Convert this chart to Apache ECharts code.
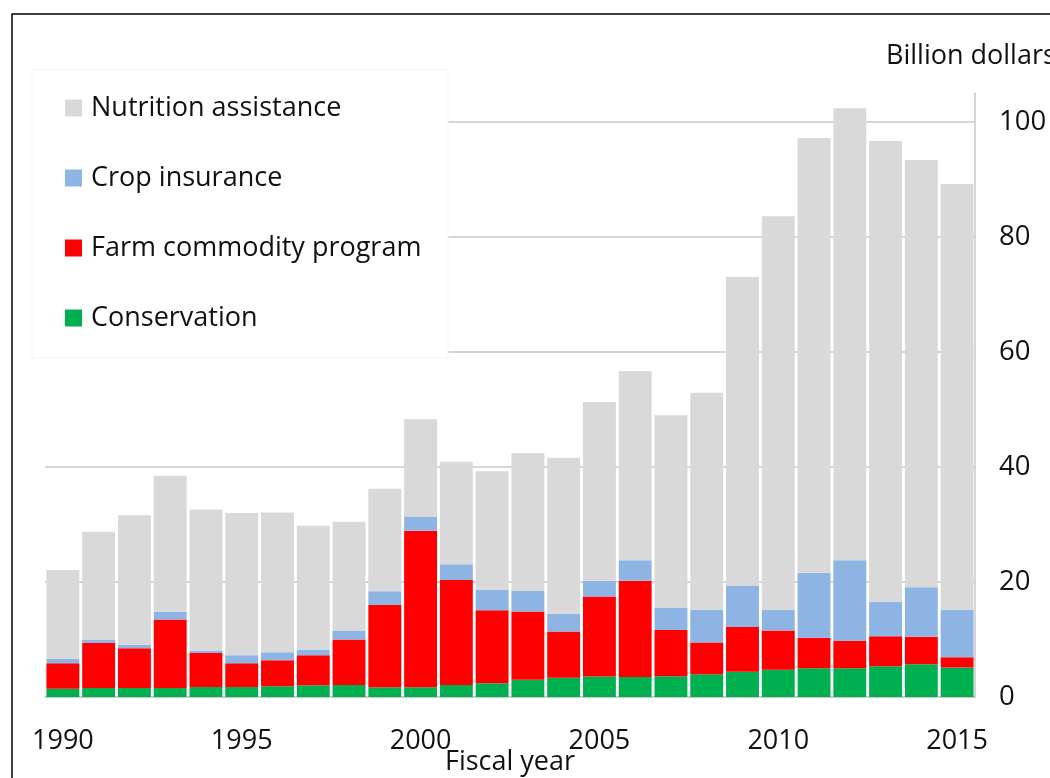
<!DOCTYPE html>
<html>
<head>
<meta charset="utf-8">
<script src="https://cdn.jsdelivr.net/npm/echarts@6/dist/echarts.min.js"></script>
<style>
html,body{margin:0;padding:0;background:#fff;}
#chart{width:1050px;height:778px;}
</style>
</head>
<body>
<div id="chart"></div>
<script>
const years = ['1990','1991','1992','1993','1994','1995','1996','1997','1998','1999','2000','2001','2002','2003','2004','2005','2006','2007','2008','2009','2010','2011','2012','2013','2014','2015'];
const conservation = [1.45,1.57,1.57,1.57,1.74,1.74,1.86,2.03,2.1,1.68,1.68,2.08,2.37,3.0,3.35,3.58,3.47,3.6,3.97,4.38,4.73,5.0,5.0,5.36,5.7,5.15];
const farmCommodity = [4.41,7.82,6.89,11.93,5.91,4.12,4.52,5.22,7.9,14.32,27.22,18.27,12.73,11.86,8.05,13.88,16.73,8.04,5.49,7.8,6.82,5.3,4.74,5.22,4.8,1.75];
const cropInsurance = [0.81,0.61,0.64,1.34,0.45,1.39,1.39,0.98,1.58,2.4,2.4,2.75,3.6,3.64,3.05,2.74,3.6,3.86,5.71,7.22,3.62,11.3,14.06,5.98,8.6,8.27];
const nutrition = [15.43,18.75,22.5,23.66,24.5,24.75,24.33,21.57,18.92,17.8,17.0,17.8,20.55,23.9,27.15,31.1,32.9,33.5,37.73,53.7,68.43,75.6,78.6,80.14,74.3,74.03];
const yTicks = [0,20,40,60,80,100];

const FONT = '"Open Sans", "DejaVu Sans", sans-serif';
const chart = echarts.init(document.getElementById('chart'));
const mk = (name, data, color) => ({
  name, type: 'bar', stack: 'total', data,
  barCategoryGap: '8%',
  itemStyle: { color },
  emphasis: { disabled: true }
});
chart.setOption({
  animation: false,
  backgroundColor: '#fff',
  textStyle: { fontFamily: FONT },
  grid: { left: 45, right: 75, top: 93.25, bottom: 81, containLabel: false, outerBoundsMode: 'none' },
  graphic: [
    { type: 'rect', z: 1, shape: { x: 32, y: 70, width: 416, height: 288 }, style: { fill: '#fff', stroke: '#f4f4f4', lineWidth: 1 } },
    { type: 'rect', z: 10, shape: { x: 12, y: 14, width: 1100, height: 820 }, style: { fill: 'none', stroke: '#000', lineWidth: 1.5 } },
    { type: 'text', z: 10, left: 886, top: 43, style: { text: 'Billion dollars', font: '27px ' + FONT, fill: '#111' } },
    { type: 'text', z: 10, x: 510, y: 762, style: { text: 'Fiscal year', font: '27px ' + FONT, fill: '#111', align: 'center', verticalAlign: 'middle' } }
  ],
  legend: {
    orient: 'vertical', left: 60, top: 88,
    itemWidth: 17, itemHeight: 17, itemGap: 40,
    icon: 'rect',
    data: ['Nutrition assistance','Crop insurance','Farm commodity program','Conservation'],
    textStyle: { fontFamily: FONT, fontSize: 27, color: '#111', lineHeight: 30, padding: [0,0,0,4] }
  },
  xAxis: {
    type: 'category', data: years,
    axisLine: { lineStyle: { color: '#c8c8c8', width: 1.5 } },
    axisTick: { show: false },
    axisLabel: { interval: 4, fontSize: 27, color: '#111', margin: 31, fontFamily: FONT }
  },
  yAxis: {
    type: 'value', position: 'right', min: 0, max: 105, interval: 20,
    axisLine: { show: true, lineStyle: { color: '#c8c8c8', width: 1.5 } },
    axisTick: { show: false },
    axisLabel: { fontSize: 27.5, color: '#111', margin: 24, fontFamily: FONT, showMaxLabel: false,
      formatter: v => (yTicks.indexOf(v) >= 0 ? String(v) : '') },
    splitLine: { show: true, showMaxLine: false, lineStyle: { color: '#c8c8c8', width: 1.5 } }
  },
  series: [
    mk('Conservation', conservation, '#00b050'),
    mk('Farm commodity program', farmCommodity, '#ff0000'),
    mk('Crop insurance', cropInsurance, '#8eb4e3'),
    mk('Nutrition assistance', nutrition, '#d9d9d9')
  ]
});
</script>
</body>
</html>
